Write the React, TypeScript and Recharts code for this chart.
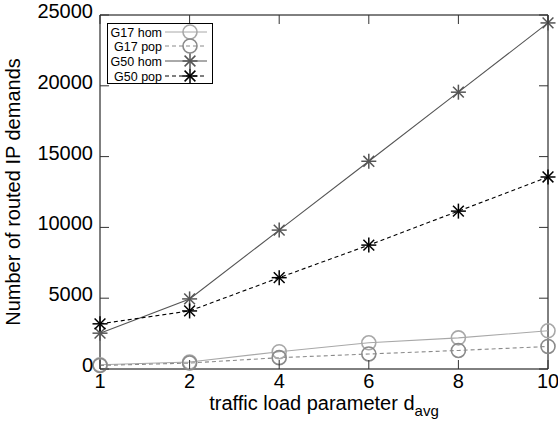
import React from 'react';
import { LineChart, Line, XAxis, YAxis, ReferenceArea, Legend, Label } from 'recharts';

const dAvg = ['1', '2', '4', '6', '8', '10'];
const g17Hom = [300, 490, 1220, 1850, 2200, 2700];
const g17Pop = [250, 420, 800, 1060, 1310, 1590];
const g50Hom = [2530, 4950, 9810, 14670, 19550, 24440];
const g50Pop = [3190, 4100, 6450, 8750, 11150, 13560];
const yTicks = [0, 5000, 10000, 15000, 20000, 25000];

const data = dAvg.map((d, i) => ({
  d,
  g17Hom: g17Hom[i],
  g17Pop: g17Pop[i],
  g50Hom: g50Hom[i],
  g50Pop: g50Pop[i],
}));

const series = [
  { key: 'g17Hom', name: 'G17 hom', color: '#a8a8a8', dash: undefined, marker: 'circle' },
  { key: 'g17Pop', name: 'G17 pop', color: '#8a8a8a', dash: '4 3', marker: 'circle' },
  { key: 'g50Hom', name: 'G50 hom', color: '#555555', dash: undefined, marker: 'star' },
  { key: 'g50Pop', name: 'G50 pop', color: '#000000', dash: '4 3', marker: 'star' },
];

const FONT = '"Liberation Sans", Arial, Helvetica, sans-serif';
const W = 558;
const H = 424;
const PLOT_LEFT = 100;
const PLOT_RIGHT = 548;
const PLOT_TOP = 15;
const PLOT_BOTTOM = 369;
const TICK = 9;

function Marker({ cx, cy, kind, color }: any) {
  if (cx == null || cy == null) return null;
  if (kind === 'circle') {
    return <circle cx={cx} cy={cy} r={7} fill="none" stroke={color} strokeWidth={1.6} />;
  }
  const r = 7.5;
  const d = r * 0.72;
  return (
    <g stroke={color} strokeWidth={1.5}>
      <line x1={cx - r} y1={cy} x2={cx + r} y2={cy} />
      <line x1={cx} y1={cy - r} x2={cx} y2={cy + r} />
      <line x1={cx - d} y1={cy - d} x2={cx + d} y2={cy + d} />
      <line x1={cx - d} y1={cy + d} x2={cx + d} y2={cy - d} />
    </g>
  );
}

function XTick(props: any) {
  const { x, payload } = props;
  return (
    <g>
      <line x1={x} x2={x} y1={PLOT_BOTTOM} y2={PLOT_BOTTOM - TICK} stroke="#333" />
      <line x1={x} x2={x} y1={PLOT_TOP} y2={PLOT_TOP + TICK} stroke="#333" />
      <text x={x} y={PLOT_BOTTOM + 18.5} textAnchor="middle" fontSize={20} fontFamily={FONT} fill="#000">
        {payload.value}
      </text>
    </g>
  );
}

function YTick(props: any) {
  const { y, payload } = props;
  return (
    <g>
      <line x1={PLOT_LEFT} x2={PLOT_LEFT + TICK} y1={y} y2={y} stroke="#333" />
      <line x1={PLOT_RIGHT} x2={PLOT_RIGHT - TICK} y1={y} y2={y} stroke="#333" />
      <text x={PLOT_LEFT - 7} y={y + 3} textAnchor="end" fontSize={20} fontFamily={FONT} fill="#000">
        {payload.value}
      </text>
    </g>
  );
}

function XTitle(props: any) {
  const { viewBox } = props;
  const cx = viewBox.x + viewBox.width / 2;
  return (
    <text x={cx} y={viewBox.y + 41} textAnchor="middle" fontSize={20} fontFamily={FONT} fill="#000">
      <tspan>traffic load parameter d</tspan>
      <tspan dy={6} fontSize={15}>avg</tspan>
    </text>
  );
}

function LegendBox() {
  const rows = [9, 23, 38, 53];
  return (
    <svg width={106} height={61} style={{ display: 'block', overflow: 'visible' }}>
      <rect x={0.5} y={0.5} width={105} height={60} fill="none" stroke="#000" />
      {series.map((s, i) => (
        <g key={s.key}>
          <text x={55} y={rows[i] + 4.5} textAnchor="end" fontSize={12.5} fontFamily={FONT} fill="#000">
            {s.name}
          </text>
          <line x1={58} x2={100} y1={rows[i]} y2={rows[i]} stroke={s.color} strokeDasharray={s.dash} />
          <Marker cx={83} cy={rows[i]} kind={s.marker} color={s.color} />
        </g>
      ))}
    </svg>
  );
}

export default function App() {
  return (
    <div style={{ width: W, height: H, background: '#fff' }}>
      <style>{'body{margin:0}'}</style>
      <LineChart width={W} height={H} data={data} margin={{ top: PLOT_TOP, right: W - PLOT_RIGHT, bottom: 25, left: 0 }}>
        <XAxis
          dataKey="d"
          type="category"
          scale="point"
          padding={{ left: 0, right: 0 }}
          height={30}
          axisLine={false}
          tickLine={false}
          tick={<XTick />}
          interval={0}
        >
          <Label content={<XTitle />} />
        </XAxis>
        <YAxis
          type="number"
          domain={[0, 25000]}
          ticks={yTicks}
          width={PLOT_LEFT}
          axisLine={false}
          tickLine={false}
          tick={<YTick />}
          interval={0}
        >
          <Label
            value="Number of routed IP demands"
            angle={-90}
            position="center"
            dx={-37}
            style={{ fontSize: 20, fontFamily: FONT, fill: '#000', textAnchor: 'middle' }}
          />
        </YAxis>
        <ReferenceArea x1="1" x2="10" y1={0} y2={25000} fill="none" stroke="#000" strokeWidth={1} fillOpacity={0} />
        {series.map((s) => (
          <Line
            key={s.key}
            dataKey={s.key}
            name={s.name}
            type="linear"
            stroke={s.color}
            strokeWidth={1.1}
            strokeDasharray={s.dash}
            isAnimationActive={false}
            dot={(p: any) => <Marker key={`${s.key}-${p.index}`} cx={p.cx} cy={p.cy} kind={s.marker} color={s.color} />}
            activeDot={false}
          />
        ))}
        <Legend
          layout="vertical"
          align="center"
          verticalAlign="middle"
          content={<LegendBox />}
          wrapperStyle={{ position: 'absolute', left: 107, top: 23, width: 106, height: 61 }}
        />
      </LineChart>
    </div>
  );
}
